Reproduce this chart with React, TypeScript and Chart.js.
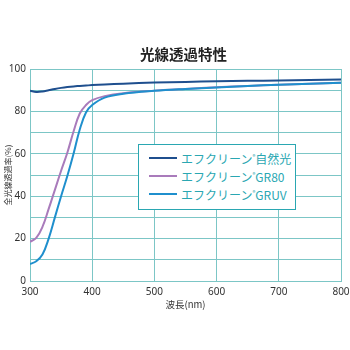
import React, { useEffect, useRef } from "react";
import Chart from "chart.js/auto";

const wavelengths = [300, 310, 320, 330, 340, 350, 360, 370, 380, 390, 400, 420, 450, 500, 550, 600, 650, 700, 750, 800];
const natural = [89.7, 89.2, 89.4, 90.0, 90.6, 91.1, 91.5, 91.8, 92.0, 92.2, 92.4, 92.7, 93.1, 93.6, 93.9, 94.2, 94.4, 94.6, 94.8, 95.0];
const gr80 = [18.5, 20.3, 25.5, 34.0, 43.0, 52.0, 60.5, 70.5, 79.0, 83.0, 85.3, 87.2, 88.6, 89.8, 90.6, 91.4, 92.0, 92.6, 93.1, 93.5];
const gruv = [8.0, 9.3, 12.5, 20.0, 30.0, 40.0, 49.5, 60.0, 71.5, 79.5, 83.0, 86.5, 88.3, 89.7, 90.6, 91.3, 92.0, 92.6, 93.1, 93.5];

const seriesNames = ["エフクリーン", "エフクリーン", "エフクリーン"];
const seriesSuffix = ["自然光", "GR80", "GRUV"];
const seriesColors = ["#1f4f8e", "#a97bbb", "#1f8fcd"];

const titleText = "光線透過特性";
const xTitle = "波長(nm)";
const yTitle = "全光線透過率(%)";
const gridColor = "#7cc6c6";
const textTeal = "#2aa7b2";

export default function App() {
  const ref = useRef<HTMLCanvasElement>(null);
  useEffect(() => {
    if (!ref.current) return;
    const mk = (vals: number[]) => wavelengths.map((x, i) => ({ x, y: vals[i] }));
    const chart = new Chart(ref.current, {
      type: "line",
      data: {
        datasets: [natural, gr80, gruv].map((v, i) => ({
          label: seriesNames[i] + "®" + seriesSuffix[i],
          data: mk(v),
          borderColor: seriesColors[i],
          backgroundColor: seriesColors[i],
          borderWidth: 2,
          pointRadius: 0,
          tension: 0.4,
          fill: false,
        })).reverse(),
      },
      options: {
        animation: false,
        responsive: false,
        layout: { padding: { left: 0, right: 9, top: 69, bottom: 40 } },
        plugins: {
          legend: { display: false },
          tooltip: { enabled: false },
          title: { display: false },
        },
        scales: {
          x: {
            type: "linear",
            min: 300,
            max: 800,
            ticks: { stepSize: 100, color: "#333", font: { family: "'Noto Sans'", size: 10 }, padding: 5, maxRotation: 0 },
            grid: { color: gridColor, lineWidth: 1, drawTicks: false },
            border: { color: gridColor },
            title: { display: true, text: xTitle, color: "#333", font: { family: "'Noto Sans CJK JP'", size: 9.5 }, padding: 0 },
            afterFit: (s: any) => { s.height = 29; s.paddingRight = 0; s.paddingLeft = 0; },
          },
          y: {
            min: 0,
            max: 100,
            ticks: {
              stepSize: 10,
              color: "#333",
              font: { family: "'Noto Sans'", size: 10 },
              padding: 4,
              callback: (v: any) => (Number(v) % 20 === 0 ? String(v) : ""),
            },
            grid: { color: gridColor, lineWidth: 1, drawTicks: false },
            border: { color: gridColor },
            title: { display: true, text: yTitle, color: "#333", font: { family: "'Noto Sans CJK JP'", size: 8 }, padding: { top: 3, bottom: 0 } },
            afterFit: (s: any) => { s.width = 30; s.paddingTop = 0; s.paddingBottom = 0; },
          },
        },
      },
    });
    return () => chart.destroy();
  }, []);

  return (
    <div style={{ position: "fixed", left: 0, top: 0, width: 350, height: 350, background: "#fff" }}>
      <canvas ref={ref} width={350} height={350} />
      <div
        style={{
          position: "absolute",
          left: 0,
          top: 45,
          width: 367,
          textAlign: "center",
          fontFamily: "'Noto Sans CJK JP'",
          fontWeight: "bold",
          fontSize: 14.5,
          lineHeight: "18px",
          color: "#222",
        }}
      >
        {titleText}
      </div>
      <div
        style={{
          position: "absolute",
          left: 138,
          top: 144,
          width: 156,
          height: 64,
          border: `1.5px solid ${textTeal}`,
          background: "#fff",
          fontFamily: "'Noto Sans CJK JP'",
          fontSize: 12,
          color: textTeal,
          boxSizing: "content-box",
        }}
      >
        {seriesSuffix.map((s, i) => (
          <div key={i} style={{ position: "absolute", left: 10, top: 4 + i * 18, height: 18, display: "flex", alignItems: "center", whiteSpace: "nowrap" }}>
            <span style={{ display: "inline-block", width: 28, height: 2, background: seriesColors[i], marginRight: 4 }} />
            <span>
              {seriesNames[i]}
              <sup style={{ fontSize: 6 }}>®</sup>
              {s}
            </span>
          </div>
        ))}
      </div>
    </div>
  );
}
